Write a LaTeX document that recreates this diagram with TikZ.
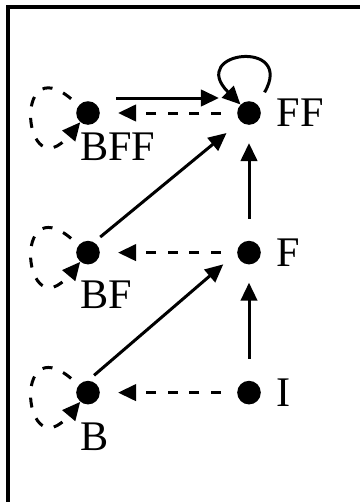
\documentclass[tikz,border=0pt]{standalone}
\usepackage{fontspec}
\setmainfont{Liberation Serif}
\usetikzlibrary{positioning,arrows.meta}

\begin{document}
\begin{tikzpicture}[
    x=0.25mm, y=0.25mm,
    dot/.style={
        circle,
        fill,
        minimum size=5.9mm,
        inner sep=0pt
    },
    lbl/.style={
        font=\fontsize{30}{36}\selectfont,
        inner sep=0pt
    },
    arrow/.style={-{Triangle[length=4.5mm, width=4.1mm]}, line width=0.75mm, shorten <=4mm, shorten >=4.5mm},
    dasharrow/.style={arrow, dash pattern=on 2.5mm off 2.9mm},
    frame/.style={line width=0.9mm}
]
\useasboundingbox (0,0) rectangle (360,-502);

% frame, cut by the page on the right and at the bottom
\draw[frame] (390,-6.7) -- (8,-6.7) -- (8,-530);

\node[dot] (BFF) at (88,-113) {};
\node[dot, on grid, right=40.25mm of BFF] (FF) {};
\node[dot, on grid, below=34.9mm of BFF] (BF) {};
\node[dot, on grid, right=40.25mm of BF] (F) {};
\node[dot, on grid, below=35mm of BF] (B) {};
\node[dot, on grid, right=40.25mm of B] (I) {};

\node[lbl, right=3.8mm of FF] (FFtxt) {FF};
\node[lbl, right=3.8mm of F] (Ftxt) {F};
\node[lbl, right=3.8mm of I] (Itxt) {I};
\node[lbl, below=1.9mm of BFF.south, anchor=north west, xshift=-2mm] (BFFtxt) {BFF};
\node[lbl, below=4.1mm of BF.south, anchor=north west, xshift=-2mm] (BFtxt) {BF};
\node[lbl, below=4.6mm of B.south, anchor=north west, xshift=-2mm] (Btxt) {B};

\draw[arrow] ([yshift=3.75mm]BFF.east) -- ([yshift=3.75mm]FF.west);
\draw[dasharrow] (FF.west) -- (BFF.east);
\draw[dasharrow] (F.west) -- (BF.east);
\draw[dasharrow] (I.west) -- (B.east);
\draw[arrow, shorten <=5.5mm] (F.north) -- (FF.south);
\draw[arrow, shorten <=5.5mm] (I.north) -- (F.south);
\draw[arrow, shorten <=2mm] (BF.60) -- (FF.south west);
\draw[arrow, shorten <=2mm] (B.north) -- (F.west);

% loops
\draw[arrow, shorten <=3.5mm, shorten >=0pt] (FF.45) to[out=60, in=135, distance=19mm] (FF.135);
\draw[dasharrow, shorten <=2.5mm, shorten >=0pt] (BFF) to[out=140, in=230, distance=22mm] (BFF);
\draw[dasharrow, shorten <=2.5mm, shorten >=0pt] (BF) to[out=140, in=230, distance=22mm] (BF);
\draw[dasharrow, shorten <=2.5mm, shorten >=0pt] (B) to[out=140, in=230, distance=22mm] (B);

\end{tikzpicture}
\end{document}
